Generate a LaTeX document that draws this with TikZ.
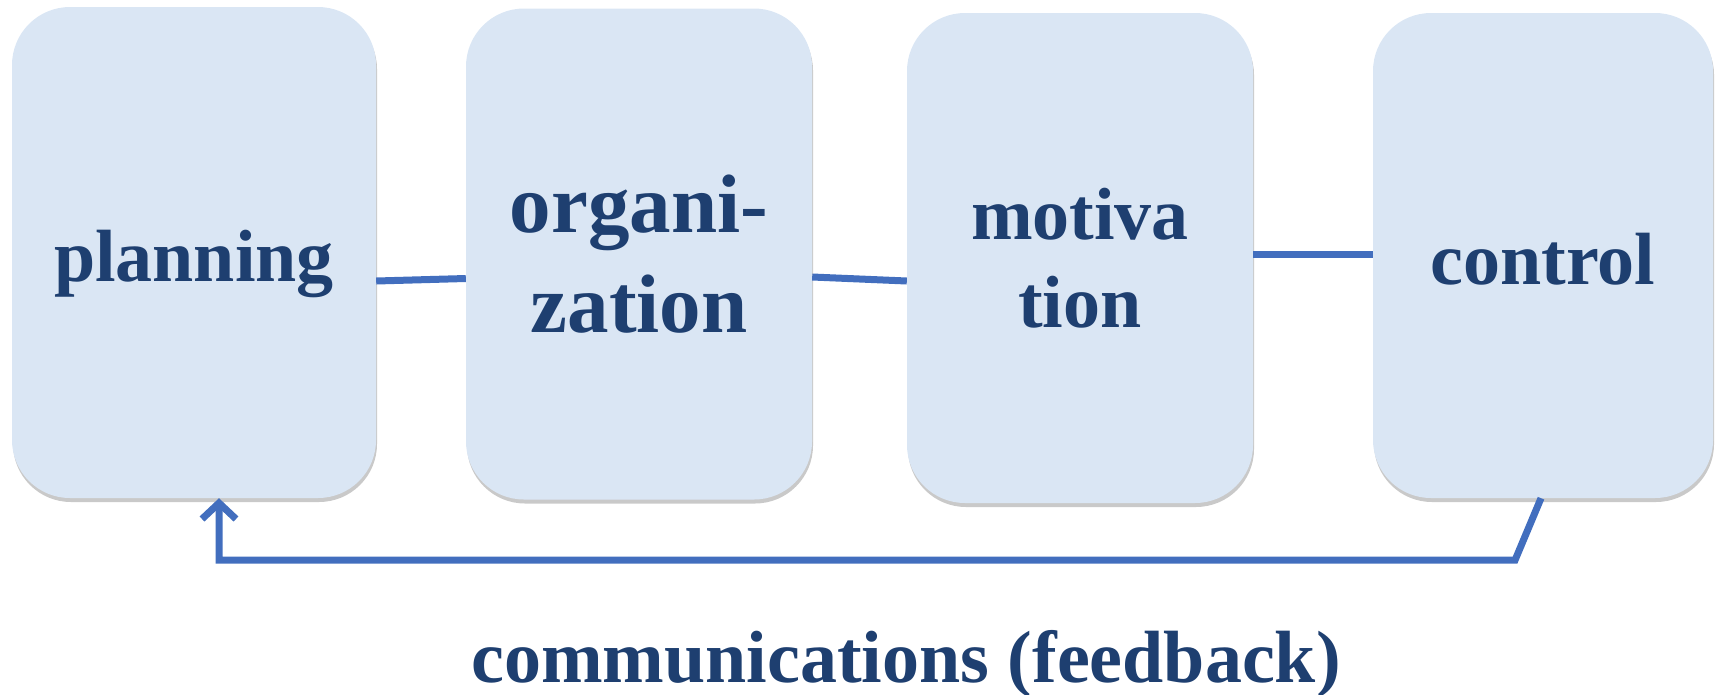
\documentclass[tikz,border=0pt]{standalone}
\usepackage{fontspec}
\setmainfont{Liberation Serif}
\usepackage{xcolor}
\usetikzlibrary{arrows.meta,shadows}
\definecolor{boxfill}{RGB}{218,230,244}
\definecolor{inkblue}{RGB}{30,63,112}
\definecolor{linkblue}{RGB}{66,110,190}
\tikzset{>=latex}
\tikzset{
  stage/.style={rounded corners=58pt, fill=boxfill, align=center, inner sep=0pt,
    text=inkblue, font=\bfseries\fontsize{74}{88}\selectfont,
    drop shadow={shadow xshift=1pt, shadow yshift=-4pt, opacity=0.3, fill=black!70}},
  oneline/.style={text height=57pt, text depth=0pt},
  link/.style={draw=linkblue, line width=7pt},
}

\begin{document}
\begin{tikzpicture}[x=1pt,y=-1pt]
  \useasboundingbox (0,0) rectangle (1723,694);
  \node[stage, oneline, minimum width=364pt, minimum height=491pt] (plan) at (194,252.5) {planning};
  \node[stage, minimum width=346pt, minimum height=491pt, font=\bfseries\fontsize{83}{100}\selectfont] (org) at (639,254) {organi-\\zation};
  \node[stage, minimum width=346pt, minimum height=490pt] (mot) at (1080,258) {motiva\\tion};
  \node[stage, oneline, minimum width=340pt, minimum height=485pt] (ctl) at (1543,255.5) {control};
  \node[anchor=base, text=inkblue, font=\bfseries\fontsize{74}{88}\selectfont] (caption) at (906,682) {communications (feedback)};
  \draw[link] ([yshift=-28.5pt]plan.east) -- ([yshift=-24.5pt]org.west);
  \draw[link] ([yshift=-23pt]org.east) -- ([yshift=-23pt]mot.west);
  \draw[link] ([yshift=4pt]mot.east) -- ([yshift=1.5pt]ctl.west);
  \draw[link, -{Straight Barb[length=16pt,width=34pt]}] ([xshift=-2pt]ctl.south) -- ++(-26,62) -| ([xshift=25pt]plan.south);
\end{tikzpicture}
\end{document}
